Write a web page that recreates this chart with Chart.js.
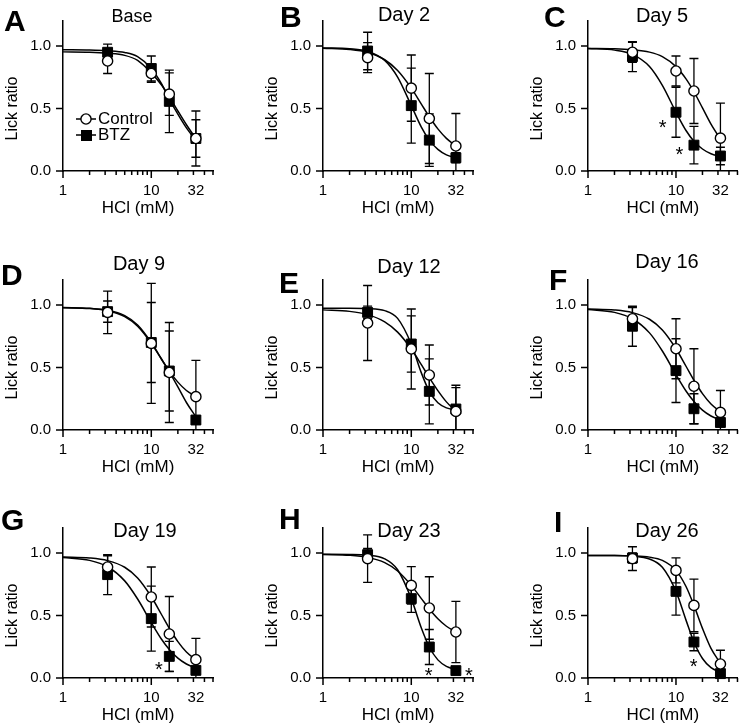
<!DOCTYPE html>
<html>
<head>
<meta charset="utf-8">
<script src="https://cdn.jsdelivr.net/npm/chart.js@4.4.1/dist/chart.umd.min.js"></script>
<style>
  html, body { margin: 0; padding: 0; background: #fff; }
  body { width: 740px; height: 727px; position: relative; overflow: hidden; }
  canvas { position: absolute; }
</style>
</head>
<body>
<script>
// HCl doses (mM) of the test solutions
const doses = [3.2, 10, 16, 32];
const fitDoses = [1, 2, 3.2, 5, 7, 10, 13, 16, 20, 25, 32];

const panelLetters = ['A', 'B', 'C', 'D', 'E', 'F', 'G', 'H', 'I'];
const panelTitles = ['Base', 'Day 2', 'Day 5', 'Day 9', 'Day 12', 'Day 16', 'Day 19', 'Day 23', 'Day 26'];

const xTickLabels = [1, 10, 32];
const xMajorTicks = [1, 10];
const xMinorTicks = [2, 3, 4, 5, 6, 7, 8, 9, 20, 30, 40, 50];
const yTickLabels = [0, 0.5, 1.0];

// lick ratio, one row per panel, one value per dose
const controlMean = [
    [0.88, 0.78, 0.615, 0.26],
    [0.907, 0.663, 0.42, 0.20],
    [0.95, 0.80, 0.64, 0.263],
    [0.941, 0.693, 0.46, 0.267],
    [0.856, 0.648, 0.44, 0.149],
    [0.89, 0.65, 0.35, 0.141],
    [0.888, 0.648, 0.352, 0.147],
    [0.955, 0.741, 0.56, 0.368],
    [0.955, 0.861, 0.581, 0.112]
];
const controlErr = [
    [0.10, 0.07, 0.17, 0.22],
    [0.12, 0.265, 0.36, 0.26],
    [0.08, 0.12, 0.26, 0.28],
    [0.17, 0.48, 0.40, 0.29],
    [0.30, 0.32, 0.24, 0.19],
    [0.09, 0.24, 0.30, 0.175],
    [0.09, 0.24, 0.30, 0.17],
    [0.19, 0.15, 0.25, 0.245],
    [0.095, 0.10, 0.21, 0.11]
];
const btzMean = [
    [0.95, 0.82, 0.557, 0.26],
    [0.96, 0.523, 0.247, 0.106],
    [0.915, 0.47, 0.207, 0.12],
    [0.947, 0.70, 0.472, 0.08],
    [0.941, 0.688, 0.309, 0.168],
    [0.83, 0.475, 0.17, 0.06],
    [0.827, 0.475, 0.173, 0.061],
    [0.987, 0.635, 0.248, 0.059],
    [0.96, 0.693, 0.288, 0.035]
];
const btzErr = [
    [0.065, 0.10, 0.25, 0.15],
    [0.15, 0.30, 0.21, 0.04],
    [0.12, 0.20, 0.15, 0.07],
    [0.085, 0.32, 0.32, 0.03],
    [0.05, 0.225, 0.26, 0.19],
    [0.16, 0.255, 0.12, 0.03],
    [0.16, 0.26, 0.12, 0.03],
    [0.05, 0.11, 0.14, 0.02],
    [0.04, 0.19, 0.07, 0.02]
];

// fitted curves, one value per fitDoses entry
const controlFit = [
    [0.953, 0.95, 0.942, 0.925, 0.885, 0.785, 0.69, 0.595, 0.48, 0.37, 0.26],
    [0.982, 0.972, 0.948, 0.89, 0.804, 0.663, 0.535, 0.434, 0.337, 0.261, 0.20],
    [0.98, 0.978, 0.97, 0.951, 0.915, 0.835, 0.737, 0.634, 0.505, 0.375, 0.255],
    [0.978, 0.972, 0.954, 0.907, 0.83, 0.693, 0.568, 0.471, 0.383, 0.316, 0.267],
    [0.961, 0.949, 0.923, 0.865, 0.783, 0.648, 0.523, 0.419, 0.315, 0.225, 0.149],
    [0.968, 0.96, 0.939, 0.886, 0.80, 0.65, 0.51, 0.398, 0.291, 0.208, 0.145],
    [0.968, 0.96, 0.939, 0.886, 0.80, 0.65, 0.51, 0.398, 0.291, 0.208, 0.145],
    [0.988, 0.982, 0.965, 0.923, 0.856, 0.741, 0.635, 0.552, 0.474, 0.414, 0.368],
    [0.98, 0.98, 0.977, 0.967, 0.941, 0.861, 0.732, 0.581, 0.397, 0.237, 0.118]
];
const btzFit = [
    [0.97, 0.968, 0.962, 0.948, 0.915, 0.82, 0.70, 0.575, 0.455, 0.345, 0.245],
    [0.985, 0.978, 0.957, 0.885, 0.751, 0.523, 0.351, 0.247, 0.173, 0.129, 0.104],
    [0.98, 0.967, 0.933, 0.836, 0.685, 0.47, 0.324, 0.238, 0.176, 0.138, 0.115],
    [0.98, 0.974, 0.958, 0.915, 0.84, 0.70, 0.57, 0.465, 0.345, 0.22, 0.105],
    [0.975, 0.975, 0.972, 0.955, 0.893, 0.688, 0.457, 0.309, 0.218, 0.177, 0.159],
    [0.964, 0.941, 0.89, 0.777, 0.632, 0.443, 0.312, 0.228, 0.159, 0.112, 0.078],
    [0.964, 0.941, 0.89, 0.777, 0.632, 0.443, 0.312, 0.228, 0.159, 0.112, 0.078],
    [0.99, 0.989, 0.983, 0.953, 0.866, 0.635, 0.40, 0.248, 0.145, 0.093, 0.067],
    [0.98, 0.98, 0.975, 0.952, 0.886, 0.693, 0.463, 0.288, 0.156, 0.083, 0.045]
];

// significance marks: panel, dose, lick ratio
const starPanel = [2, 2, 6, 7, 7, 8];
const starDose = [7.05, 10.9, 12.2, 15.7, 45, 15.9];
const starRatio = [0.38, 0.16, 0.10, 0.045, 0.045, 0.12];

// page layout (pixels)
const FONT = '"Liberation Sans", Arial, Helvetica, sans-serif';
const colAxisX = [63, 323, 588];
const rowTopY = [21, 280, 528];
const plotW = 150, plotH = 150, yAxisW = 63, topPad = 35;
const letterPos = [[4, 31], [280, 27], [544, 27], [1, 285], [279, 293], [549, 290], [1, 530], [279, 529], [554, 532]];
const titlePos = [[132, 22], [404, 21], [662, 22], [139, 270], [409, 273], [667, 268], [145, 537], [409, 537], [667, 537]];
const titleSize = [18, 20, 20, 20, 20, 20, 20, 20, 20];

const decor = {
    id: 'decor',
    beforeDatasetsDraw(chart, args, o) {
        const ctx = chart.ctx, a = chart.chartArea;
        const xs = chart.scales.x, ys = chart.scales.y;
        const p = o.panel;
        ctx.save();
        ctx.beginPath();
        ctx.rect(a.left - 10, a.top - 10, a.width + 20, a.height + 10);
        ctx.clip();
        ctx.strokeStyle = '#000';
        ctx.lineWidth = 1.3;
        [[controlMean, controlErr], [btzMean, btzErr]].forEach(([m, e]) => {
            doses.forEach((d, i) => {
                const px = xs.getPixelForValue(d);
                const hi = ys.getPixelForValue(m[p][i] + e[p][i]);
                const lo = ys.getPixelForValue(m[p][i] - e[p][i]);
                ctx.beginPath();
                ctx.moveTo(px, hi); ctx.lineTo(px, lo);
                ctx.moveTo(px - 4.5, hi); ctx.lineTo(px + 4.5, hi);
                ctx.moveTo(px - 4.5, lo); ctx.lineTo(px + 4.5, lo);
                ctx.stroke();
            });
        });
        ctx.restore();
    },
    afterDraw(chart, args, o) {
        const ctx = chart.ctx, a = chart.chartArea;
        const xs = chart.scales.x, ys = chart.scales.y;
        const p = o.panel;
        ctx.save();
        ctx.strokeStyle = '#000';
        ctx.fillStyle = '#000';
        ctx.lineWidth = 1.5;

        // tick marks
        ctx.beginPath();
        xMajorTicks.forEach(v => {
            const x = xs.getPixelForValue(v);
            ctx.moveTo(x, a.bottom); ctx.lineTo(x, a.bottom + 7);
        });
        xMinorTicks.forEach(v => {
            const x = xs.getPixelForValue(v);
            ctx.moveTo(x, a.bottom); ctx.lineTo(x, a.bottom + 4);
        });
        yTickLabels.forEach(v => {
            const y = ys.getPixelForValue(v);
            ctx.moveTo(a.left - 7, y); ctx.lineTo(a.left, y);
        });
        ctx.stroke();

        // letter and title
        ctx.textBaseline = 'alphabetic';
        ctx.textAlign = 'left';
        ctx.font = 'bold 30px ' + FONT;
        ctx.fillText(panelLetters[p], letterPos[p][0] - o.left, letterPos[p][1] - o.top);
        ctx.textAlign = 'center';
        ctx.font = titleSize[p] + 'px ' + FONT;
        ctx.fillText(panelTitles[p], titlePos[p][0] - o.left, titlePos[p][1] - o.top);

        // axis titles
        ctx.font = '17px ' + FONT;
        ctx.fillText('HCl (mM)', (a.left + a.right) / 2, a.bottom + 42);
        ctx.save();
        ctx.translate(a.left - 50, ys.getPixelForValue(0.5));
        ctx.rotate(-Math.PI / 2);
        ctx.textBaseline = 'middle';
        ctx.font = '16px ' + FONT;
        ctx.fillText('Lick ratio', 0, 0);
        ctx.restore();

        // legend (first panel only)
        if (p === 0) {
            const lx = a.left + 13, ly = [a.top + 98, a.top + 114];
            ctx.lineWidth = 1.5;
            ctx.beginPath();
            ctx.moveTo(lx, ly[0]); ctx.lineTo(lx + 20, ly[0]);
            ctx.moveTo(lx, ly[1]); ctx.lineTo(lx + 20, ly[1]);
            ctx.stroke();
            ctx.beginPath();
            ctx.arc(lx + 10, ly[0], 5.1, 0, Math.PI * 2);
            ctx.fillStyle = '#fff';
            ctx.fill();
            ctx.lineWidth = 1.4;
            ctx.stroke();
            ctx.fillStyle = '#000';
            ctx.fillRect(lx + 5, ly[1] - 5, 11, 11);
            ctx.textAlign = 'left';
            ctx.textBaseline = 'middle';
            ctx.font = '17px ' + FONT;
            ctx.fillText('Control', lx + 22, ly[0]);
            ctx.fillText('BTZ', lx + 22, ly[1]);
        }

        // significance marks
        ctx.textAlign = 'center';
        ctx.textBaseline = 'middle';
        ctx.font = '20px ' + FONT;
        starPanel.forEach((sp, i) => {
            if (sp !== p) return;
            ctx.fillText('*', xs.getPixelForValue(starDose[i]), ys.getPixelForValue(starRatio[i]) + 4.5);
        });
        ctx.restore();
    }
};

panelTitles.forEach((t, p) => {
    const c = p % 3, r = Math.floor(p / 3);
    const left = colAxisX[c] - yAxisW;
    const top = rowTopY[r] - topPad;
    const w = Math.min(yAxisW + plotW + 14, 740 - left);
    const h = Math.min(topPad + plotH + 56, 727 - top);
    const cv = document.createElement('canvas');
    cv.width = w;
    cv.height = h;
    cv.style.left = left + 'px';
    cv.style.top = top + 'px';
    document.body.appendChild(cv);

    new Chart(cv, {
        type: 'scatter',
        data: {
            datasets: [
                {
                    label: 'Control',
                    data: doses.map((d, i) => ({ x: d, y: controlMean[p][i] })),
                    pointStyle: 'circle',
                    pointRadius: 5.1,
                    pointBackgroundColor: '#fff',
                    pointBorderColor: '#000',
                    pointBorderWidth: 1.4,
                    clip: false
                },
                {
                    label: 'BTZ',
                    data: doses.map((d, i) => ({ x: d, y: btzMean[p][i] })),
                    pointStyle: 'rect',
                    pointRadius: 7,
                    pointBackgroundColor: '#000',
                    pointBorderColor: '#000',
                    pointBorderWidth: 1,
                    clip: false
                },
                {
                    type: 'line',
                    label: 'Control fit',
                    data: fitDoses.map((d, i) => ({ x: d, y: controlFit[p][i] })),
                    borderColor: '#000',
                    borderWidth: 1.5,
                    pointRadius: 0,
                    cubicInterpolationMode: 'monotone',
                    fill: false,
                    clip: false
                },
                {
                    type: 'line',
                    label: 'BTZ fit',
                    data: fitDoses.map((d, i) => ({ x: d, y: btzFit[p][i] })),
                    borderColor: '#000',
                    borderWidth: 1.5,
                    pointRadius: 0,
                    cubicInterpolationMode: 'monotone',
                    fill: false,
                    clip: false
                }
            ]
        },
        options: {
            responsive: false,
            animation: false,
            events: [],
            layout: {
                autoPadding: false,
                padding: { left: 0, top: topPad, right: w - yAxisW - plotW, bottom: 0 }
            },
            plugins: {
                legend: { display: false },
                tooltip: { enabled: false },
                decor: { panel: p, left: left, top: top }
            },
            scales: {
                x: {
                    type: 'logarithmic',
                    min: 1,
                    max: 50,
                    afterBuildTicks: s => { s.ticks = xTickLabels.map(v => ({ value: v })); },
                    afterFit: s => { s.height = h - topPad - plotH; },
                    grid: { display: false, drawTicks: false },
                    border: { display: true, color: '#000', width: 1.5 },
                    ticks: {
                        autoSkip: false,
                        maxRotation: 0,
                        padding: 11,
                        color: '#000',
                        font: { family: FONT, size: 15 },
                        callback: v => String(v)
                    }
                },
                y: {
                    min: 0,
                    max: 1.2,
                    afterBuildTicks: s => { s.ticks = yTickLabels.map(v => ({ value: v })); },
                    afterFit: s => { s.width = yAxisW; },
                    grid: { display: false, drawTicks: false },
                    border: { display: true, color: '#000', width: 1.5 },
                    ticks: {
                        padding: 12,
                        color: '#000',
                        font: { family: FONT, size: 15 },
                        callback: v => v.toFixed(1)
                    }
                }
            }
        },
        plugins: [decor]
    });
});
</script>
</body>
</html>
